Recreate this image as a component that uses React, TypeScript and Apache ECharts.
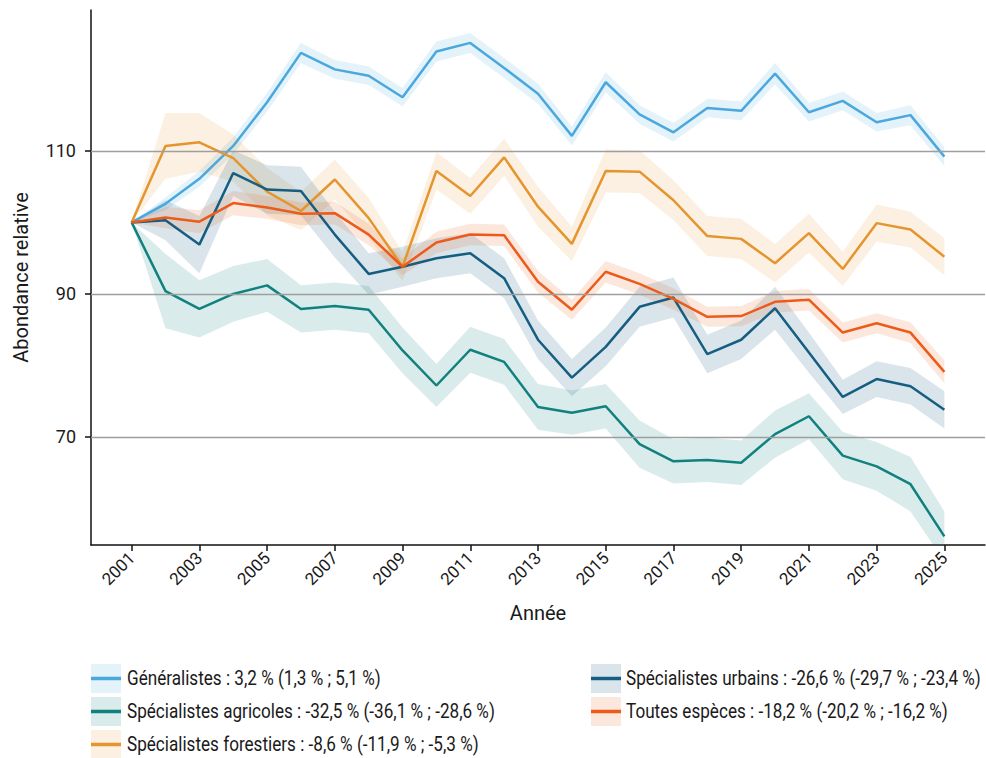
import React, { useEffect, useRef } from "react";
import * as echarts from "echarts";

const years = [2001, 2002, 2003, 2004, 2005, 2006, 2007, 2008, 2009, 2010, 2011, 2012, 2013, 2014, 2015, 2016, 2017, 2018, 2019, 2020, 2021, 2022, 2023, 2024, 2025];
const xTickYears = [2001, 2003, 2005, 2007, 2009, 2011, 2013, 2015, 2017, 2019, 2021, 2023, 2025];
const yTicks = [70, 90, 110];

const generalistes = [100, 102.6, 106.1, 110.7, 116.8, 123.7, 121.4, 120.5, 117.5, 123.9, 125.1, 121.6, 118.0, 112.1, 119.6, 115.1, 112.6, 116.0, 115.6, 120.8, 115.4, 117.0, 114.0, 115.0, 109.2];
const generalistesCi = [0, 0.9, 1.1, 1.2, 1.3, 1.4, 1.3, 1.3, 1.3, 1.4, 1.4, 1.4, 1.4, 1.3, 1.4, 1.3, 1.3, 1.3, 1.3, 1.5, 1.3, 1.3, 1.3, 1.4, 1.3];

const agricoles = [100, 90.4, 87.9, 90.0, 91.2, 87.9, 88.3, 87.8, 82.1, 77.2, 82.2, 80.5, 74.2, 73.4, 74.3, 69.0, 66.6, 66.8, 66.4, 70.4, 72.9, 67.4, 65.9, 63.4, 56.1];
const agricolesCi = [0, 5.2, 4.0, 3.9, 3.7, 3.3, 3.3, 3.3, 3.2, 3.0, 3.2, 3.2, 3.2, 3.1, 3.1, 3.3, 3.1, 3.1, 3.1, 3.3, 3.2, 3.3, 3.4, 3.8, 3.5];

const forestiers = [100, 110.7, 111.2, 109.0, 104.3, 101.6, 106.0, 100.6, 93.8, 107.2, 103.7, 109.1, 102.2, 97.0, 107.2, 107.1, 103.1, 98.1, 97.7, 94.3, 98.5, 93.5, 99.9, 99.0, 95.2];
const forestiersCi = [0, 4.6, 4.1, 3.3, 3.3, 2.7, 2.8, 2.8, 2.0, 2.6, 2.5, 2.6, 2.8, 2.4, 3.0, 3.0, 2.8, 2.8, 2.8, 2.7, 2.7, 2.4, 2.6, 2.5, 2.6];

const urbains = [100, 100.3, 96.9, 106.9, 104.6, 104.4, 98.3, 92.8, 93.8, 95.0, 95.7, 92.2, 83.6, 78.3, 82.6, 88.2, 89.5, 81.6, 83.6, 88.0, 81.8, 75.6, 78.1, 77.1, 73.8];
const urbainsCi = [0, 2.8, 4.0, 3.2, 3.4, 3.4, 3.2, 2.9, 2.8, 2.8, 2.8, 2.8, 2.7, 2.6, 2.7, 2.8, 2.8, 2.7, 2.7, 3.0, 2.8, 2.4, 2.5, 2.55, 2.6];

const toutes = [100, 100.7, 100.1, 102.7, 102.1, 101.2, 101.3, 98.3, 93.8, 97.2, 98.3, 98.2, 91.7, 87.8, 93.1, 91.4, 89.3, 86.8, 86.9, 88.9, 89.2, 84.6, 85.9, 84.6, 79.1];
const toutesCi = [0, 1.5, 1.6, 1.7, 1.6, 1.6, 1.6, 1.5, 1.2, 1.5, 1.5, 1.5, 1.5, 1.4, 1.5, 1.5, 1.5, 1.4, 1.4, 1.5, 1.5, 1.4, 1.4, 1.45, 1.6];

const seriesNames = ["Généralistes", "Spécialistes agricoles", "Spécialistes forestiers", "Spécialistes urbains", "Toutes espèces"];
const legendLabels = [
  "Généralistes : 3,2 % (1,3 % ; 5,1 %)",
  "Spécialistes agricoles : -32,5 % (-36,1 % ; -28,6 %)",
  "Spécialistes forestiers : -8,6 % (-11,9 % ; -5,3 %)",
  "Spécialistes urbains : -26,6 % (-29,7 % ; -23,4 %)",
  "Toutes espèces : -18,2 % (-20,2 % ; -16,2 %)",
];

const FONT = "Roboto, 'Noto Sans', sans-serif";

export default function App() {
  const ref = useRef<HTMLDivElement>(null);

  useEffect(() => {
    if (!ref.current) return;
    const chart = echarts.init(ref.current, null, { renderer: "svg" });

    const groups = [
      { values: generalistes, ci: generalistesCi, color: "#4AA8DE", band: "rgba(74,168,222,0.15)" },
      { values: agricoles, ci: agricolesCi, color: "#11817F", band: "rgba(17,129,127,0.16)" },
      { values: forestiers, ci: forestiersCi, color: "#E5952E", band: "rgba(229,149,46,0.14)" },
      { values: urbains, ci: urbainsCi, color: "#155E82", band: "rgba(21,94,130,0.16)" },
      { values: toutes, ci: toutesCi, color: "#EC5B1A", band: "rgba(236,91,26,0.15)" },
    ];

    const series: any[] = [];
    groups.forEach((g, i) => {
      const rows = years.map((y, k) => [y, g.values[k] - g.ci[k], g.values[k] + g.ci[k]]);
      series.push({
        type: "custom",
        name: seriesNames[i] + " (IC)",
        data: rows,
        encode: { x: 0, y: [1, 2] },
        clip: true,
        silent: true,
        z: 1,
        renderItem: (params: any, api: any) => {
          if (params.dataIndex !== 0) return null;
          const upper = rows.map((r) => api.coord([r[0], r[2]]));
          const lower = rows.map((r) => api.coord([r[0], r[1]])).reverse();
          return {
            type: "polygon",
            shape: { points: upper.concat(lower) },
            style: { fill: g.band, stroke: "none" },
          };
        },
      });
    });
    groups.forEach((g, i) => {
      const s: any = {
        type: "line",
        name: seriesNames[i],
        data: years.map((y, k) => [y, g.values[k]]),
        symbol: "none",
        lineStyle: { width: 2.5, color: g.color },
        itemStyle: { color: g.color },
        z: 3,
      };
      if (i === 0) {
        s.markLine = {
          silent: true,
          symbol: ["none", "none"],
          label: { show: false },
          lineStyle: { color: "#9e9e9e", width: 1.3, type: "solid" },
          data: yTicks.map((v) => ({ yAxis: v })),
        };
      }
      series.push(s);
    });

    const measure = (t: string) => {
      const c = document.createElement("canvas").getContext("2d")!;
      c.font = "20px Roboto";
      return c.measureText(t).width;
    };
    const scale = 368 / measure(legendLabels[1]);
    const legendPos = [
      { x: 91, y: 664, tx: 127 },
      { x: 91, y: 697, tx: 127 },
      { x: 91, y: 730, tx: 127 },
      { x: 591, y: 664, tx: 626 },
      { x: 591, y: 697, tx: 626 },
    ];
    const graphics: any[] = [];
    groups.forEach((g, i) => {
      const p = legendPos[i];
      graphics.push({ type: "rect", shape: { x: p.x, y: p.y, width: 30, height: 29 }, style: { fill: g.band } });
      graphics.push({ type: "line", shape: { x1: p.x, y1: p.y + 14.5, x2: p.x + 30, y2: p.y + 14.5 }, style: { stroke: g.color, lineWidth: 3.5 } });
      graphics.push({
        type: "text",
        x: p.tx,
        y: p.y + 15,
        scaleX: scale,
        style: { text: legendLabels[i], fill: "#1a1a1a", font: "20px " + FONT, align: "left", verticalAlign: "middle" },
      });
    });

    chart.setOption({
      animation: false,
      backgroundColor: "#ffffff",
      textStyle: { fontFamily: FONT },
      grid: { left: 91, right: 1, top: 10, bottom: 213, containLabel: false },
      xAxis: {
        type: "value",
        min: 1999.8,
        max: 2026.2,
        name: "Année",
        nameLocation: "middle",
        nameGap: 58,
        nameTextStyle: { fontSize: 20, color: "#1a1a1a", fontFamily: FONT },
        axisLine: { show: true, lineStyle: { color: "#111", width: 1.5 } },
        axisTick: { show: true, length: 6, lineStyle: { color: "#111", width: 1.5 }, customValues: xTickYears },
        axisLabel: {
          show: true,
          rotate: 45,
          margin: 10,
          fontSize: 17,
          color: "#1a1a1a",
          fontFamily: FONT,
          customValues: xTickYears,
          formatter: (v: number) => String(v),
        },
        splitLine: { show: false },
      },
      yAxis: {
        type: "value",
        min: 54.9,
        max: 129.7,
        name: "Abondance relative",
        nameLocation: "middle",
        nameGap: 60,
        nameTextStyle: { fontSize: 20, color: "#1a1a1a", fontFamily: FONT },
        axisLine: { show: true, lineStyle: { color: "#111", width: 1.5 } },
        axisTick: { show: true, length: 6, lineStyle: { color: "#111", width: 1.5 }, customValues: yTicks },
        axisLabel: { show: true, margin: 15, fontSize: 18, color: "#1a1a1a", fontFamily: FONT, customValues: yTicks },
        splitLine: { show: false },
      },
      series,
      graphic: graphics,
    });

    return () => chart.dispose();
  }, []);

  return (
    <div
      ref={ref}
      style={{ position: "fixed", left: 0, top: 0, width: 986, height: 758, background: "#fff" }}
    />
  );
}
